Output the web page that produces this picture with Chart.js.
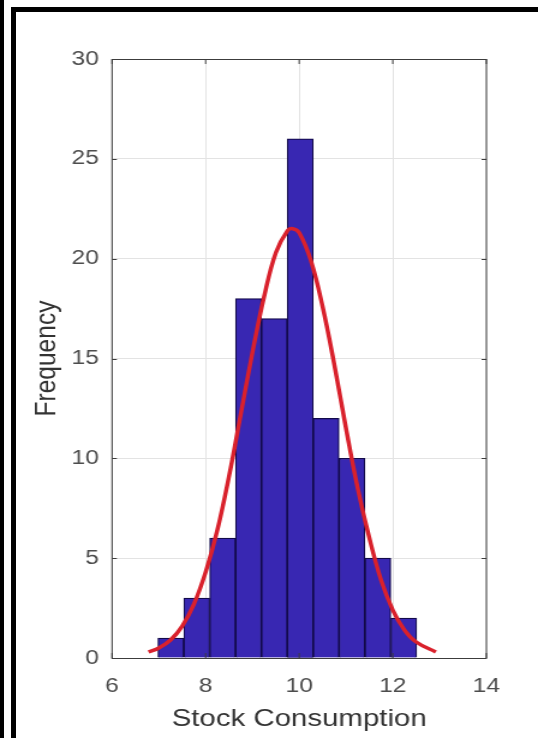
<!DOCTYPE html>
<html>
<head>
<meta charset="utf-8">
<script src="https://cdn.jsdelivr.net/npm/chart.js@4.4.1/dist/chart.umd.min.js"></script>
<style>
    body { margin: 0; background: #fff; }
    #wrap { position: relative; width: 538px; height: 738px; overflow: hidden; }
    #strip { position: absolute; left: 0; top: 0; width: 4px; height: 738px; background: #000; }
    #frame { position: absolute; left: 11px; top: 7px; width: 540px; height: 740px; border: 5px solid #000; box-sizing: border-box; }
    /* the source picture is stretched sideways, text included */
    canvas { position: absolute; left: 0; top: 0; transform: scaleX(1.2009); transform-origin: 0 0; }
</style>
</head>
<body>
<div id="wrap">
    <div id="strip"></div>
    <div id="frame"></div>
    <canvas id="histChart" width="448" height="738"></canvas>
</div>
<script>
// histogram bins (bin centres) and counts
const binCenters = [7.257, 7.810, 8.363, 8.916, 9.469, 10.022, 10.575, 11.128, 11.681, 12.234];
const counts = [1, 3, 6, 18, 17, 26, 12, 10, 5, 2];

// fitted curve, points
const fitX = [6.78, 7.0, 7.25, 7.5, 7.75, 8.0, 8.25, 8.5, 8.75, 9.0, 9.25, 9.5, 9.75, 9.86,
    10.0, 10.25, 10.5, 10.75, 11.0, 11.25, 11.5, 11.75, 12.0, 12.25, 12.5, 12.92];
const fitY = [0.3, 0.5, 0.9, 1.6, 2.7, 4.3, 6.4, 9.1, 12.2, 15.3, 18.1, 20.3, 21.4, 21.5,
    21.3, 19.9, 17.6, 14.7, 11.5, 8.5, 6.0, 3.9, 2.4, 1.4, 0.8, 0.3];

const xTicks = [6, 8, 10, 12, 14];
const yTicks = [0, 5, 10, 15, 20, 25, 30];

const ctx = document.getElementById('histChart').getContext('2d');

// MATLAB style: short ticks pointing inwards on all four sides, plus the box
const inwardTicks = {
    id: 'inwardTicks',
    afterDatasetsDraw(chart) {
        const { ctx, chartArea: a, scales: { x, y } } = chart;
        ctx.save();
        ctx.strokeStyle = '#3c3c3c';
        ctx.lineWidth = 1;
        ctx.beginPath();
        xTicks.forEach(function(v) {
            const px = x.getPixelForValue(v);
            ctx.moveTo(px, a.bottom); ctx.lineTo(px, a.bottom - 5);
            ctx.moveTo(px, a.top); ctx.lineTo(px, a.top + 5);
        });
        yTicks.forEach(function(v) {
            const py = Math.round(y.getPixelForValue(v)) + 0.5;
            ctx.moveTo(a.left, py); ctx.lineTo(a.left + 4, py);
            ctx.moveTo(a.right, py); ctx.lineTo(a.right - 4, py);
        });
        ctx.stroke();
        ctx.strokeRect(a.left, Math.round(a.top) + 0.5, a.right - a.left, Math.round(a.bottom - a.top));
        ctx.restore();
    }
};

new Chart(ctx, {
    data: {
        datasets: [{
            type: 'line',
            data: fitX.map(function(v, i) { return { x: v, y: fitY[i] }; }),
            borderColor: '#d9212c',
            borderWidth: 3.5,
            pointRadius: 0,
            tension: 0.4,
            fill: false,
            order: 0
        }, {
            type: 'bar',
            data: binCenters.map(function(v, i) { return { x: v, y: counts[i] }; }),
            backgroundColor: '#3827b2',
            borderColor: '#120a4a',
            borderWidth: 1.2,
            barPercentage: 1,
            categoryPercentage: 1,
            order: 1
        }]
    },
    options: {
        responsive: false,
        animation: false,
        layout: { padding: { left: 0, right: 43, top: 59, bottom: 0 } },
        plugins: { legend: { display: false }, tooltip: { enabled: false } },
        scales: {
            x: {
                type: 'linear',
                offset: false,
                min: 6,
                max: 14,
                afterBuildTicks: function(scale) { scale.ticks = xTicks.map(function(v) { return { value: v }; }); },
                afterFit: function(scale) { scale.height = 80; },
                grid: { color: '#e3e3e3', drawTicks: false, offset: false },
                border: { display: false },
                ticks: { color: '#4d4d4d', font: { family: 'Liberation Sans', size: 20.5 }, padding: 16, maxRotation: 0 },
                title: { display: true, text: 'Stock Consumption', color: '#333333',
                    font: { family: 'Liberation Sans', size: 24.5 }, padding: { top: 0, bottom: 4 } }
            },
            y: {
                min: 0,
                max: 30,
                afterBuildTicks: function(scale) { scale.ticks = yTicks.map(function(v) { return { value: v }; }); },
                afterFit: function(scale) { scale.width = 93.3; },
                grid: { color: '#e3e3e3', drawTicks: false },
                border: { display: false },
                ticks: { color: '#4d4d4d', font: { family: 'Liberation Sans', size: 20.5 }, padding: 11 },
                title: { display: true, text: 'Frequency', color: '#333333',
                    font: { family: 'Liberation Sans', size: 24.5 }, padding: { top: 25, bottom: 0 } }
            }
        }
    },
    plugins: [inwardTicks]
});
</script>
</body>
</html>
